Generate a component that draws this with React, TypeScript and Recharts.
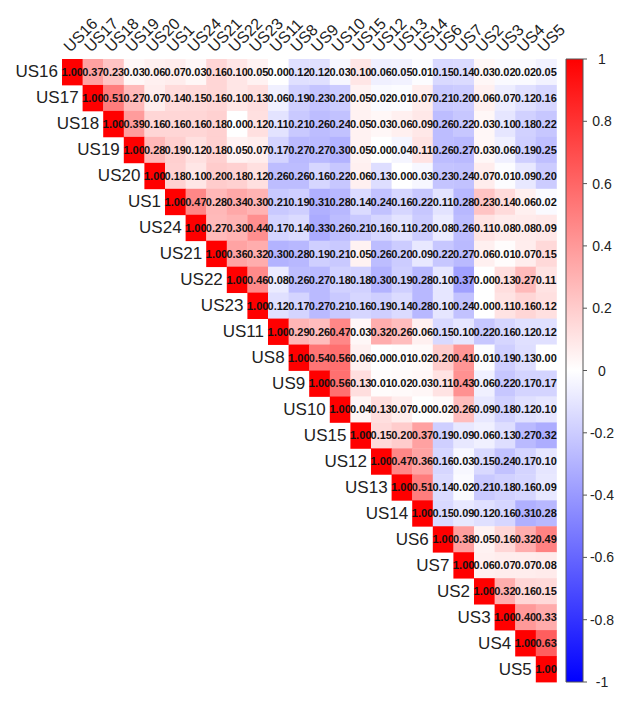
import { ScatterChart, Scatter, XAxis, YAxis, ReferenceArea } from 'recharts';

// variable order (rows top->bottom, columns left->right)
const variables = [
  'US16', 'US17', 'US18', 'US19', 'US20', 'US1', 'US24', 'US21', 'US22', 'US23', 'US11', 'US8',
  'US9', 'US10', 'US15', 'US12', 'US13', 'US14', 'US6', 'US7', 'US2', 'US3', 'US4', 'US5',
];

// upper triangle, each row starts at the diagonal
const rowUS16 = [1.00, 0.37, 0.23, 0.03, 0.06, 0.07, 0.03, 0.16, 0.10, 0.05, 0.00, -0.12, -0.12, -0.03, 0.10, -0.06, -0.05, -0.01, -0.15, -0.14, 0.03, -0.02, -0.02, -0.05];
const rowUS17 = [1.00, 0.51, 0.27, 0.07, 0.14, 0.15, 0.16, 0.10, 0.13, -0.06, -0.19, -0.23, -0.20, 0.05, -0.02, -0.01, 0.07, -0.21, -0.20, 0.06, -0.07, -0.12, -0.16];
const rowUS18 = [1.00, 0.39, 0.16, 0.16, 0.16, 0.18, 0.00, 0.12, -0.11, -0.21, -0.26, -0.24, 0.05, 0.03, 0.06, 0.09, -0.26, -0.22, 0.03, -0.10, -0.18, -0.22];
const rowUS19 = [1.00, 0.28, 0.19, 0.12, 0.18, 0.05, 0.07, -0.17, -0.27, -0.27, -0.30, 0.05, 0.00, -0.04, 0.11, -0.26, -0.27, 0.03, -0.06, -0.19, -0.25];
const rowUS20 = [1.00, 0.18, 0.10, 0.20, 0.18, 0.12, -0.26, -0.26, -0.16, -0.22, 0.06, -0.13, 0.00, -0.03, -0.23, -0.24, 0.07, -0.01, -0.09, -0.20];
const rowUS1 = [1.00, 0.47, 0.28, 0.34, 0.30, -0.21, -0.19, -0.31, -0.28, -0.14, -0.24, -0.16, -0.22, -0.11, -0.28, 0.23, 0.14, 0.06, -0.02];
const rowUS24 = [1.00, 0.27, 0.30, 0.44, -0.17, -0.14, -0.33, -0.26, -0.21, -0.16, -0.11, -0.20, -0.08, -0.26, 0.11, 0.08, 0.08, 0.09];
const rowUS21 = [1.00, 0.36, 0.32, -0.30, -0.28, -0.19, -0.21, 0.05, -0.26, -0.20, -0.09, -0.22, -0.27, 0.06, 0.01, 0.07, 0.15];
const rowUS22 = [1.00, 0.46, -0.08, -0.26, -0.27, -0.18, -0.18, -0.30, -0.19, -0.28, -0.10, -0.37, 0.00, 0.13, 0.27, 0.11];
const rowUS23 = [1.00, -0.12, -0.17, -0.27, -0.21, -0.16, -0.19, -0.14, -0.28, -0.10, -0.24, 0.00, 0.11, 0.16, 0.12];
const rowUS11 = [1.00, 0.29, 0.26, 0.47, 0.03, 0.32, 0.26, 0.06, -0.15, -0.10, -0.22, -0.16, -0.12, -0.12];
const rowUS8 = [1.00, 0.54, 0.56, 0.06, 0.00, 0.01, 0.02, 0.20, 0.41, -0.01, -0.19, -0.13, 0.00];
const rowUS9 = [1.00, 0.56, 0.13, 0.01, 0.02, 0.03, 0.11, 0.43, -0.06, -0.22, -0.17, -0.17];
const rowUS10 = [1.00, 0.04, 0.13, 0.07, 0.00, 0.02, 0.26, -0.09, -0.18, -0.12, -0.10];
const rowUS15 = [1.00, 0.15, 0.20, 0.37, -0.19, -0.09, -0.06, -0.13, -0.27, -0.32];
const rowUS12 = [1.00, 0.47, 0.36, -0.16, -0.03, -0.15, -0.24, -0.17, -0.10];
const rowUS13 = [1.00, 0.51, -0.14, -0.02, -0.21, -0.18, -0.16, -0.09];
const rowUS14 = [1.00, -0.15, -0.09, -0.12, -0.16, -0.31, -0.28];
const rowUS6 = [1.00, 0.38, 0.05, 0.16, 0.32, 0.49];
const rowUS7 = [1.00, 0.06, 0.07, 0.07, 0.08];
const rowUS2 = [1.00, 0.32, 0.16, 0.15];
const rowUS3 = [1.00, 0.40, 0.33];
const rowUS4 = [1.00, 0.63];
const rowUS5 = [1.00];

const rows = [
  rowUS16, rowUS17, rowUS18, rowUS19, rowUS20, rowUS1, rowUS24, rowUS21, rowUS22, rowUS23, rowUS11, rowUS8,
  rowUS9, rowUS10, rowUS15, rowUS12, rowUS13, rowUS14, rowUS6, rowUS7, rowUS2, rowUS3, rowUS4, rowUS5,
];

const colorbarTicks = [1, 0.8, 0.6, 0.4, 0.2, 0, -0.2, -0.4, -0.6, -0.8, -1];

// layout
const W = 618;
const H = 704;
const PLOT_LEFT = 62;
const PLOT_RIGHT = 583;
const PLOT_TOP = 59;
const PLOT_BOTTOM = 682;
const CW = 20.6;
const CH = (PLOT_BOTTOM - PLOT_TOP) / variables.length;
const XMAX = (PLOT_RIGHT - PLOT_LEFT) / CW;
const CB_X1 = (566 - PLOT_LEFT) / CW;
const FONT = '"Liberation Sans", Arial, sans-serif';

const cells = rows.flatMap((r, i) =>
  r.map((v, k) => ({ x: i + k + 0.5, y: i + 0.5, v, row: i, col: i + k }))
);

// invisible anchor points so the colour-bar axis owns data
const cbPoints = colorbarTicks.map((t) => ({ x: (CB_X1 + XMAX) / 2, c: t }));

const colorFor = (v: number) => {
  const t = Math.min(1, Math.abs(v));
  const c = Math.round(255 * (1 - t));
  return v >= 0 ? `rgb(255,${c},${c})` : `rgb(${c},${c},255)`;
};

const CellShape = (props: any) => {
  const { cx, cy, payload } = props;
  return (
    <g>
      <rect x={cx - CW / 2} y={cy - CH / 2} width={CW + 0.4} height={CH + 0.4} fill={colorFor(payload.v)} />
      <text
        x={cx}
        y={cy}
        textAnchor="middle"
        dominantBaseline="central"
        fontSize={11}
        fontWeight="bold"
        fill="#111"
        fontFamily={FONT}
      >
        {Math.abs(payload.v).toFixed(2)}
      </text>
      {payload.row === payload.col && (
        <text
          x={cx - CW / 2 - 4}
          y={cy}
          textAnchor="end"
          dominantBaseline="central"
          fontSize={17}
          fill="#222"
          fontFamily={FONT}
        >
          {variables[payload.row]}
        </text>
      )}
    </g>
  );
};

const ColTick = ({ x, y, payload }: any) => (
  <text
    transform={`translate(${x - 2},${y + 2}) rotate(-45)`}
    fontSize={16}
    fill="#222"
    fontFamily={FONT}
  >
    {variables[Math.floor(payload.value)]}
  </text>
);

const BarTick = ({ y, payload }: any) => (
  <text x={602} y={y} textAnchor="middle" dominantBaseline="central" fontSize={14} fill="#222" fontFamily={FONT}>
    {payload.value}
  </text>
);

export default function App() {
  return (
    <div style={{ position: 'absolute', left: 0, top: 0, background: '#fff' }}>
      <ScatterChart width={W} height={H} margin={{ top: 0, right: 0, bottom: H - PLOT_BOTTOM, left: PLOT_LEFT }}>
        <defs>
          <linearGradient id="cbGrad" x1="0" y1="0" x2="0" y2="1">
            <stop offset="0%" stopColor="#ff0000" />
            <stop offset="50%" stopColor="#ffffff" />
            <stop offset="100%" stopColor="#0000ff" />
          </linearGradient>
        </defs>
        <XAxis
          xAxisId="x"
          type="number"
          dataKey="x"
          orientation="top"
          domain={[0, XMAX]}
          ticks={variables.map((_, i) => i + 0.5)}
          interval={0}
          tick={<ColTick />}
          axisLine={false}
          tickLine={false}
          height={PLOT_TOP}
        />
        <YAxis yAxisId="grid" type="number" dataKey="y" domain={[0, variables.length]} reversed hide />
        <YAxis
          yAxisId="cb"
          type="number"
          dataKey="c"
          orientation="right"
          domain={[-1, 1]}
          ticks={colorbarTicks}
          interval={0}
          tick={<BarTick />}
          tickSize={4}
          tickLine={{ stroke: '#555' }}
          axisLine={false}
          width={W - PLOT_RIGHT}
        />
        <ReferenceArea
          xAxisId="x"
          yAxisId="cb"
          x1={CB_X1}
          x2={XMAX}
          y1={-1}
          y2={1}
          fill="url(#cbGrad)"
          fillOpacity={1}
          stroke="#555"
          strokeWidth={1}
          ifOverflow="visible"
        />
        <Scatter
          xAxisId="x"
          yAxisId="cb"
          data={cbPoints}
          shape={() => <g />}
          isAnimationActive={false}
        />
        <Scatter
          xAxisId="x"
          yAxisId="grid"
          data={cells}
          shape={<CellShape />}
          isAnimationActive={false}
        />
      </ScatterChart>
    </div>
  );
}
